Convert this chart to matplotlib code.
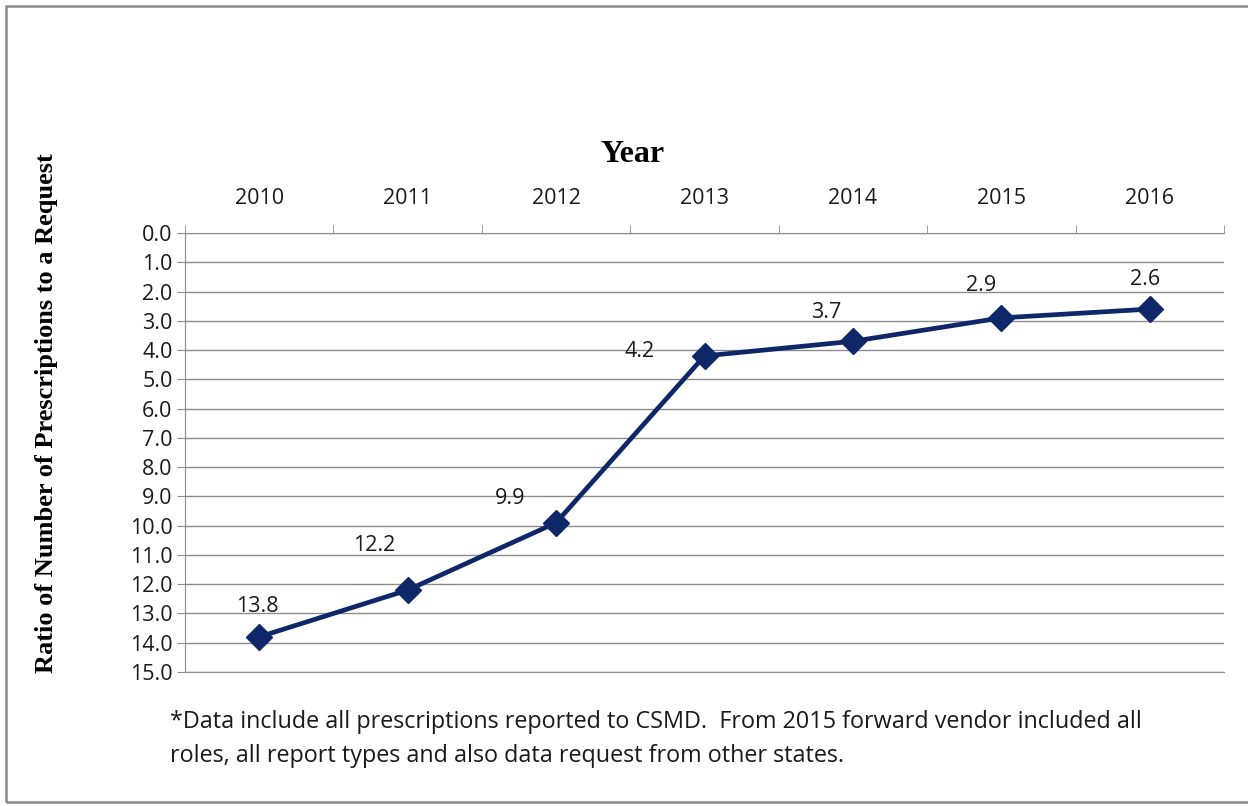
import matplotlib.pyplot as plt
import matplotlib.ticker as ticker
from matplotlib.patches import Rectangle

# Data
years = ['2010', '2011', '2012', '2013', '2014', '2015', '2016']
ratios = [13.8, 12.2, 9.9, 4.2, 3.7, 2.9, 2.6]
label_offsets = [(-2, 30), (-33, 45), (-46, 24), (-65, 4), (-27, 29), (-20, 32), (-5, 30)]

footnote = ('*Data include all prescriptions reported to CSMD.  From 2015 forward vendor included all\n'
            'roles, all report types and also data request from other states.')

line_color = '#0e2769'
grid_color = '#8c8c8c'
sans = ['Open Sans', 'DejaVu Sans']
serif = ['Liberation Serif', 'DejaVu Serif']

fig = plt.figure(figsize=(12.48, 8.06), dpi=100)
fig.patch.set_facecolor('white')

# Outer chart border
fig.patches.append(Rectangle((6 / 1248, 4 / 806), 1.0, 1 - 10 / 806, transform=fig.transFigure,
                             fill=False, edgecolor='#888888', linewidth=1.8))

ax = fig.add_axes([185 / 1248, 134 / 806, 1039 / 1248, 439 / 806])

x = list(range(len(years)))
ax.plot(x, ratios, color=line_color, linewidth=3.4, marker='D', markersize=13, zorder=3)

for xi, val, (dx, dy) in zip(x, ratios, label_offsets):
    ax.annotate(f'{val:.1f}', (xi, val), xytext=(dx, dy), textcoords='offset pixels',
                ha='center', va='center', fontsize=15.5, family=sans, color='#1a1a1a')

# Axes setup
ax.set_xlim(-0.5, len(years) - 0.5)
ax.set_ylim(15, 0)
ax.xaxis.tick_top()
ax.set_xticks(x)
ax.set_xticklabels(years, fontsize=15.5, family=sans, color='#1a1a1a')
ax.set_xticks([i - 0.5 for i in range(len(years) + 1)], minor=True)
ax.tick_params(axis='x', which='major', length=0, pad=17)
ax.tick_params(axis='x', which='minor', length=6, color=grid_color, top=True, bottom=False)

ax.set_yticks(range(0, 16))
ax.yaxis.set_major_formatter(ticker.FuncFormatter(lambda v, _: f'{v:.1f}'))
ax.tick_params(axis='y', length=6, color=grid_color, labelsize=15.5, pad=3, labelcolor='#1a1a1a')
for lbl in ax.get_yticklabels():
    lbl.set_family(sans)

ax.grid(axis='y', color=grid_color, linewidth=1)
ax.set_axisbelow(True)
ax.spines['right'].set_visible(False)
for side in ['top', 'left', 'bottom']:
    ax.spines[side].set_color(grid_color)

fig.text(633 / 1248, 1 - 155 / 806, 'Year', fontsize=23, fontweight='bold', family=serif,
         ha='center', va='center')
fig.text(47 / 1248, 1 - 413 / 806, 'Ratio of Number of Prescriptions to a Request', fontsize=19,
         fontweight='bold', family=serif, rotation=90, ha='center', va='center')

fig.text(170 / 1248, 1 - 739 / 806, footnote, fontsize=16.8, family=sans, color='#1a1a1a',
         va='center', ha='left', linespacing=1.5)

plt.savefig('out.png', dpi=100)
